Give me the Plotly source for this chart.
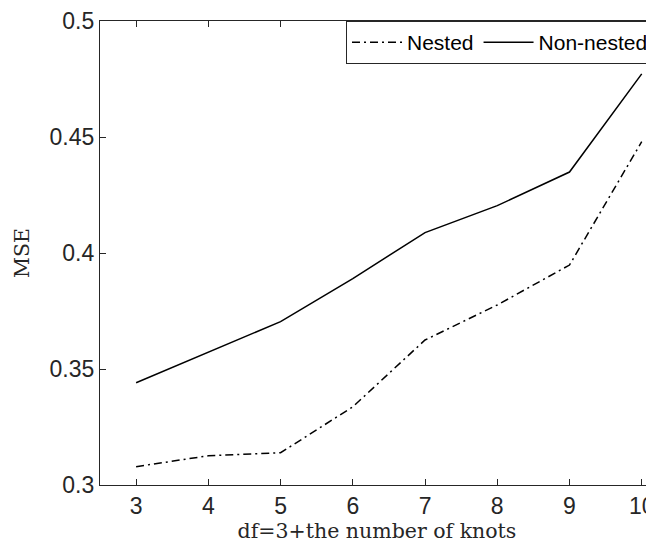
import plotly.graph_objects as go

x_vals = [3, 4, 5, 6, 7, 8, 9, 10]
nested = [0.3079, 0.3126, 0.3139, 0.3337, 0.3625, 0.3776, 0.3948, 0.4480]
non_nested = [0.3441, 0.3574, 0.3704, 0.3890, 0.4088, 0.4204, 0.4349, 0.4772]
x_ticks = [3, 4, 5, 6, 7, 8, 9, 10]
y_ticks = [0.3, 0.35, 0.4, 0.45, 0.5]
y_ticktext = ["0.3", "0.35", "0.4", "0.45", "0.5"]

fig = go.Figure()
fig.add_trace(go.Scatter(x=x_vals, y=nested, mode="lines", name="Nested",
                         line=dict(color="black", width=1.5, dash="8px,4px,2px,4px")))
fig.add_trace(go.Scatter(x=x_vals, y=non_nested, mode="lines", name="Non-nested",
                         line=dict(color="black", width=1.5)))

axis_common = dict(showline=True, linecolor="#262626", linewidth=1.3, mirror="ticks",
                   ticks="inside", ticklen=6, tickwidth=1.3, tickcolor="#262626",
                   showgrid=False, zeroline=False, ticklabeloverflow="allow",
                   tickfont=dict(family="Liberation Sans, Arial", size=23, color="#262626"))

fig.update_xaxes(range=[2.5, 10.17], tickvals=x_ticks, **axis_common,
                 title=dict(text="df=3+the number of knots",
                            font=dict(family="DejaVu Serif", size=20.5, color="#262626"),
                            standoff=4))
fig.update_yaxes(range=[0.3, 0.5], tickvals=y_ticks, ticktext=y_ticktext, **axis_common,
                 title=dict(text="MSE",
                            font=dict(family="DejaVu Serif", size=20.5, color="#262626"),
                            standoff=14))

fig.update_layout(
    width=646, height=543,
    margin=dict(l=92, r=0, t=13, b=66),
    plot_bgcolor="white", paper_bgcolor="white",
    legend=dict(orientation="h", x=1, y=1, xanchor="right", yanchor="top",
                bordercolor="#262626", borderwidth=1, bgcolor="white",
                font=dict(family="Liberation Sans, Arial", size=21, color="black"),
                itemwidth=50, tracegroupgap=0),
    showlegend=True,
)

fig.write_html("out.html")
